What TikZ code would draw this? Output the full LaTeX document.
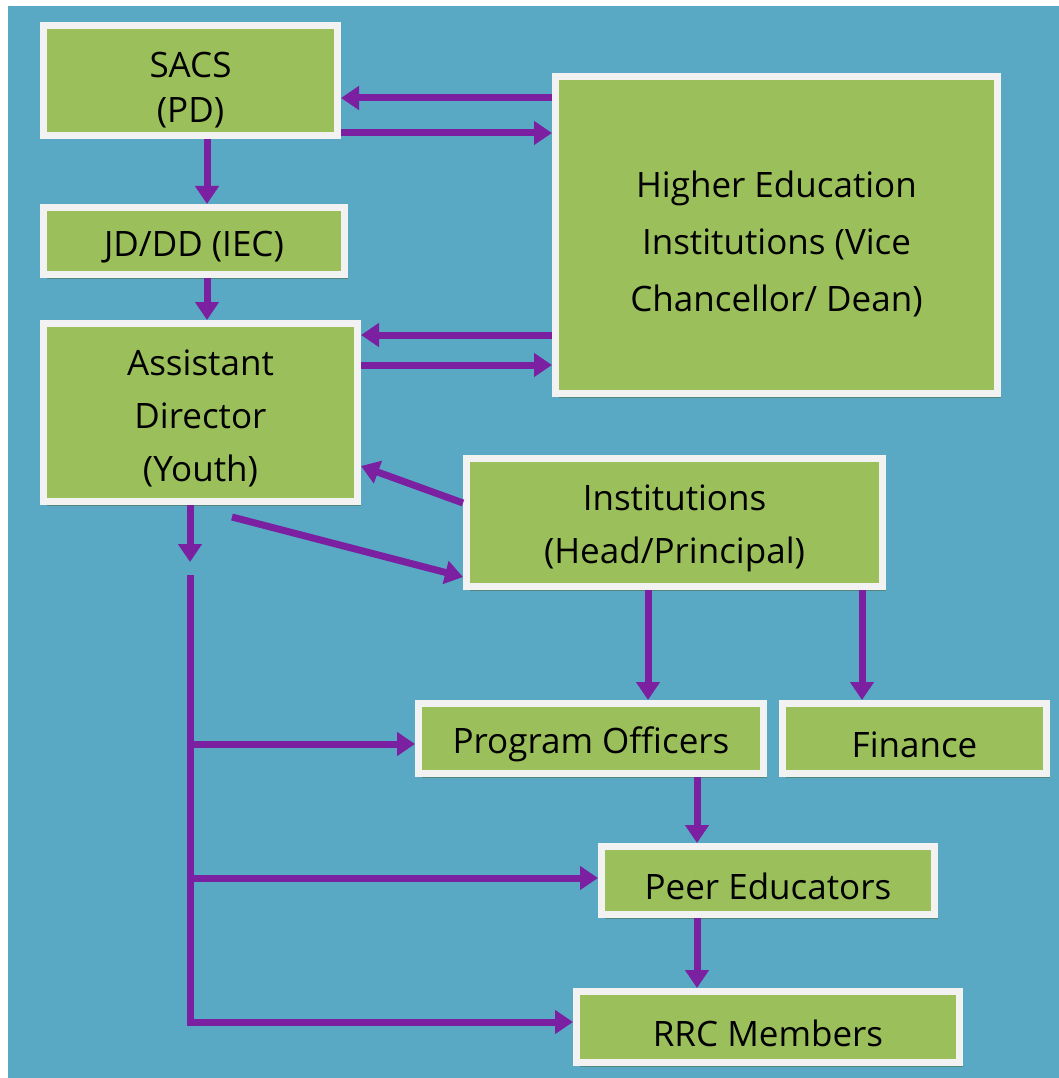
\documentclass[tikz,border=0pt]{standalone}
\usepackage{fontspec}
\setmainfont{Open Sans}
\usetikzlibrary{arrows.meta,shadows}
\definecolor{bgblue}{RGB}{89,169,197}
\definecolor{boxgreen}{RGB}{155,191,91}
\definecolor{framewhite}{RGB}{242,242,242}
\definecolor{shadowcol}{RGB}{84,134,122}
\definecolor{arrpurple}{RGB}{122,32,160}
\tikzset{
  box/.style={draw=framewhite, line width=7pt, fill=boxgreen, inner sep=0pt,
    drop shadow={shadow xshift=3pt, shadow yshift=-4pt, fill=shadowcol, opacity=1}},
  txt/.style={align=center, inner sep=0pt, text=black, yshift=-6pt,
    font=\fontsize{35}{53}\selectfont},
  arr/.style={draw=arrpurple, line width=7pt, -{Triangle[width=23pt,length=18pt]}},
  ln/.style={draw=arrpurple, line width=7pt}
}
\begin{document}
\begin{tikzpicture}[x=1pt,y=-1pt]
\useasboundingbox (0,0) rectangle (1059,1078);
\fill[white] (0,0) rectangle (1059,1078);
\fill[bgblue] (8,6) rectangle (1059,1078);

\node[box, minimum width=294pt, minimum height=110pt,
  label={[txt, yshift=-4pt, font=\fontsize{35}{45}\selectfont]center:{SACS\\(PD)}}] (sacs) at (190.5,80.5) {};
\node[box, minimum width=442pt, minimum height=317pt,
  label={[txt, yshift=-3pt, font=\fontsize{35}{57}\selectfont]center:{Higher Education\\Institutions (Vice\\Chancellor/ Dean)}}] (hei) at (776.5,235) {};
\node[box, minimum width=301pt, minimum height=67pt,
  label={[txt]center:{JD/DD (IEC)}}] (jd) at (194,241) {};
\node[box, minimum width=314pt, minimum height=178pt,
  label={[txt]center:{Assistant\\Director\\(Youth)}}] (ad) at (200.5,412.5) {};
\node[box, minimum width=416pt, minimum height=128pt,
  label={[txt]center:{Institutions\\(Head/Principal)}}] (inst) at (674.5,522.5) {};
\node[box, minimum width=345pt, minimum height=70pt,
  label={[txt]center:{Program Officers}}] (po) at (591,738.5) {};
\node[box, minimum width=264pt, minimum height=70pt,
  label={[txt]center:{Finance}}] (fin) at (914.5,738.5) {};
\node[box, minimum width=333pt, minimum height=68pt,
  label={[txt]center:{Peer Educators}}] (peer) at (768,880.5) {};
\node[box, minimum width=383pt, minimum height=71pt,
  label={[txt]center:{RRC Members}}] (rrc) at (768,1027) {};

% SACS <-> HEI
\draw[arr] (hei.west |- 0,98) -- (sacs.east |- 0,98);
\draw[arr] (sacs.east |- 0,133) -- (hei.west |- 0,133);
% SACS -> JD -> AD
\draw[arr] (sacs.south -| 207,0) -- (jd.north -| 207,0);
\draw[arr] (jd.south -| 207,0) -- (ad.north -| 207,0);
% AD <-> HEI
\draw[arr] (hei.west |- 0,335) -- (ad.east |- 0,335);
\draw[arr] (ad.east |- 0,365) -- (hei.west |- 0,365);
% AD <-> Institutions
\draw[arr] (inst.west |- 0,503) -- (ad.east |- 0,466);
\coordinate (adout) at (232,517);
\draw[arr] (adout) -- (inst.west |- 0,577);
% Institutions -> PO, Finance
\draw[arr] (inst.south -| 648,0) -- (po.north -| 648,0);
\draw[arr] (inst.south -| 862,0) -- (fin.north -| 862,0);
% PO -> Peer -> RRC
\draw[arr] (po.south -| 697,0) -- (peer.north -| 697,0);
\draw[arr] (peer.south -| 697,0) -- (rrc.north -| 697,0);
% trunk
\coordinate (tdown) at (190,562);
\coordinate (ttop) at (190,575);
\coordinate (t1) at (190,744);
\coordinate (t2) at (190,878);
\coordinate (t3) at (190,1022);
\draw[arr] (ad.south -| 190,0) -- (tdown);
\draw[ln] (ttop) -- ([yshift=-3.5pt]t3);
\draw[arr] ([xshift=-3.5pt]t3) -- (rrc.west |- t3);
\draw[arr] (t1) -- (po.west |- t1);
\draw[arr] (t2) -- (peer.west |- t2);
\end{tikzpicture}
\end{document}
